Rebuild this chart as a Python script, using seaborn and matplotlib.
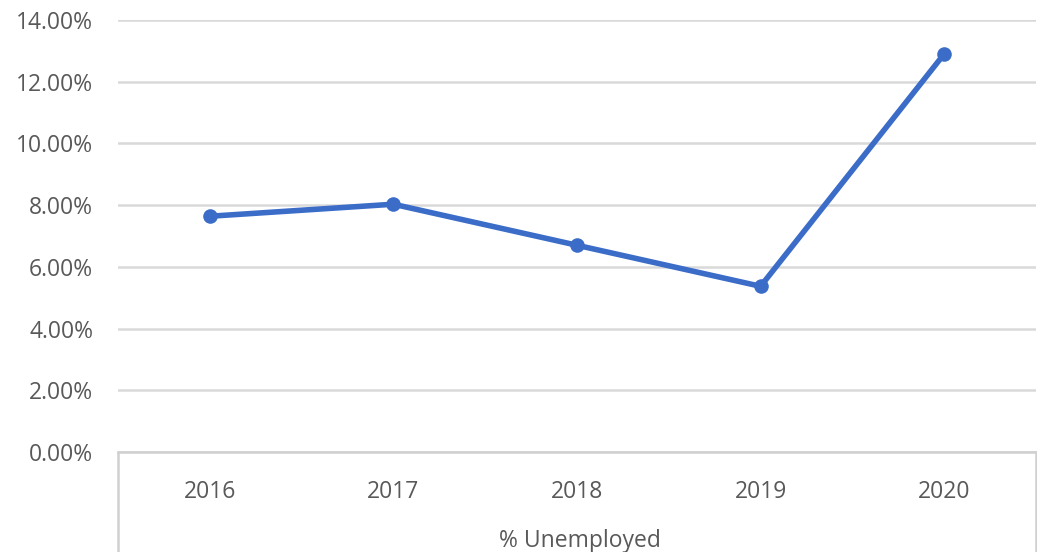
import matplotlib
matplotlib.use("Agg")
import matplotlib.pyplot as plt
import seaborn as sns
import pandas as pd
from matplotlib.ticker import FuncFormatter, MultipleLocator

years = ["2016", "2017", "2018", "2019", "2020"]
unemployed = [0.0764, 0.0803, 0.0670, 0.0537, 0.1290]
series_name = "% Unemployed"

df = pd.DataFrame({"year": years, "value": unemployed})

sns.set_theme(style="white")
plt.rcParams["font.family"] = ["Open Sans", "DejaVu Sans"]

fig = plt.figure(figsize=(10.37, 5.52), dpi=100)
ax = fig.add_axes([118 / 1037, 1 - 452 / 552, (1036 - 118) / 1037, (452 - 20) / 552])

line_color = "#3A6CC8"
sns.lineplot(data=df, x="year", y="value", ax=ax, color=line_color, linewidth=4.0,
             marker="o", markersize=10.5, markeredgewidth=0, sort=False)

ax.set_ylim(0, 0.14)
ax.set_xlim(-0.5, 4.5)
ax.yaxis.set_major_locator(MultipleLocator(0.02))
ax.yaxis.set_major_formatter(FuncFormatter(lambda v, p: f"{v*100:.2f}%"))
ax.grid(axis="y", color="#d9d9d9", linewidth=1.8)
ax.grid(axis="x", visible=False)
ax.set_axisbelow(True)
for s in ["top", "right", "left"]:
    ax.spines[s].set_visible(False)
ax.spines["bottom"].set_color("#d0d0d0")
ax.spines["bottom"].set_linewidth(1.8)

ax.tick_params(axis="y", length=0, pad=18, labelsize=16.5, labelcolor="#595959")
ax.tick_params(axis="x", length=0, pad=20, labelsize=16.5, labelcolor="#595959")
ax.set_xlabel("")
ax.set_ylabel("")

# data-table style frame below the axis
for xv in (-0.5, 4.5):
    ax.plot([xv, xv], [0, -0.05], color="#d0d0d0", linewidth=1.8, clip_on=False,
            transform=ax.transData)
ax.text(0.503, -0.205, series_name, transform=ax.transAxes, ha="center", va="center",
        fontsize=16.5, color="#595959")

fig.savefig("out.png", dpi=100)
